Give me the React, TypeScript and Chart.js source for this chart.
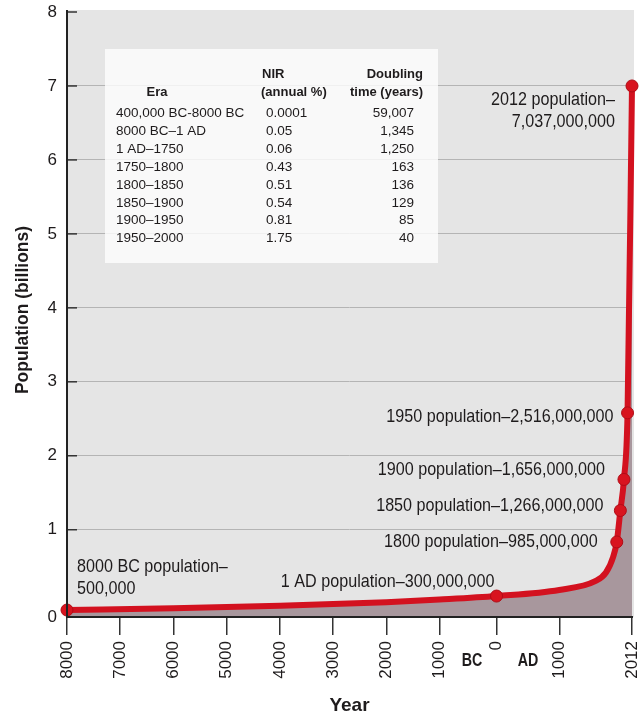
import React, { useEffect, useRef } from 'react';
import { Chart, registerables, LinearScale } from 'chart.js';

// ---------- data ----------
const years = [-8000, -6000, -4000, -2000, -1000, 1, 1000, 1500, 1650, 1750, 1800, 1850, 1900, 1950, 2012];
const populationBillions = [0.08, 0.1, 0.13, 0.17, 0.2, 0.24, 0.31, 0.41, 0.51, 0.69, 0.86, 1.26, 1.68, 2.58, 7.0];
const markedYears = [-8000, 1, 1800, 1850, 1900, 1950, 2012];

const xTickValues = [-8000, -7000, -6000, -5000, -4000, -3000, -2000, -1000, 0, 1000, 2012];
const yTickValues = [0, 1, 2, 3, 4, 5, 6, 7, 8];

const tableEras = ['400,000 BC-8000 BC', '8000 BC–1 AD', '1 AD–1750', '1750–1800', '1800–1850', '1850–1900', '1900–1950', '1950–2000'];
const tableNir = ['0.0001', '0.05', '0.06', '0.43', '0.51', '0.54', '0.81', '1.75'];
const tableDoubling = ['59,007', '1,345', '1,250', '163', '136', '129', '85', '40'];

const annotationYears = [2012, 1950, 1900, 1850, 1800, 1, -8000];
const annotationTexts = [
  ['2012 population–', '7,037,000,000'],
  ['1950 population–2,516,000,000'],
  ['1900 population–1,656,000,000'],
  ['1850 population–1,266,000,000'],
  ['1800 population–985,000,000'],
  ['1 AD population–300,000,000'],
  ['8000 BC population–', '500,000'],
];

// ---------- axis segment stretch (non-uniform axes of the original figure) ----------
const PIECEWISE: Record<string, { breaks: number[]; stretch: number[] }> = {
  x: { breaks: [-8000, -1000, 0, 1000, 2012], stretch: [1, 1.07, 1.18, 1.35] },
  y: { breaks: [0, 1, 8], stretch: [1.18, 1] },
};

class PiecewiseScale extends (LinearScale as any) {
  static id = 'piecewise';
  static defaults = (LinearScale as any).defaults;
  seg() {
    const cfg = PIECEWISE[(this as any).id];
    const lens = cfg.stretch.map((k, i) => (cfg.breaks[i + 1] - cfg.breaks[i]) * k);
    const total = lens.reduce((a, c) => a + c, 0);
    return { cfg, lens, total };
  }
  toDecimal(v: number) {
    const { cfg, lens, total } = this.seg();
    let acc = 0;
    for (let i = 0; i < lens.length; i++) {
      if (v <= cfg.breaks[i + 1] || i === lens.length - 1) {
        return (acc + (v - cfg.breaks[i]) * cfg.stretch[i]) / total;
      }
      acc += lens[i];
    }
    return 0;
  }
  getPixelForValue(v: number) {
    if (v === null || v === undefined || isNaN(v)) return NaN;
    return (this as any).getPixelForDecimal(this.toDecimal(v));
  }
  getValueForPixel(p: number) {
    const { cfg, lens, total } = this.seg();
    const d = (this as any).getDecimalForPixel(p) * total;
    let acc = 0;
    for (let i = 0; i < lens.length; i++) {
      if (d <= acc + lens[i] || i === lens.length - 1) {
        return cfg.breaks[i] + (d - acc) / cfg.stretch[i];
      }
      acc += lens[i];
    }
    return 0;
  }
}

Chart.register(...registerables, PiecewiseScale as any);

const FONT = "'Liberation Sans', Arial, Helvetica, sans-serif";
const TEXT = '#1e1b1c';

const annotationLayout = [
  { dx: -17, dy: [14, 36], align: 'right' },
  { dx: -14, dy: [4], align: 'right' },
  { dx: -19, dy: [-10], align: 'right' },
  { dx: -17, dy: [-5], align: 'right' },
  { dx: -19, dy: [0], align: 'right' },
  { dx: -2, dy: [-14], align: 'right' },
  { dx: 10, dy: [-43, -21], align: 'left' },
];

function condensedText(ctx: any, text: string, x: number, y: number, align: string, sx: number) {
  ctx.save();
  ctx.translate(x, y);
  ctx.scale(sx, 1);
  ctx.textAlign = align;
  ctx.fillText(text, 0, 0);
  ctx.restore();
}

const figurePlugin = {
  id: 'figure',
  beforeDraw(chart: any) {
    const { ctx, chartArea: a } = chart;
    ctx.save();
    ctx.fillStyle = '#ffffff';
    ctx.fillRect(0, 0, chart.width, chart.height);
    ctx.fillStyle = '#e5e5e5';
    ctx.fillRect(a.left, a.top - 2, a.right - a.left + 2, a.bottom - a.top + 2);
    ctx.restore();
  },
  beforeDatasetsDraw(chart: any) {
    const { ctx, chartArea: a } = chart;
    const ys = chart.scales.y;
    ctx.save();
    // inner y tick marks
    ctx.strokeStyle = '#333';
    ctx.lineWidth = 1.5;
    yTickValues.forEach((v) => {
      if (v === 0) return;
      const py = ys.getPixelForValue(v);
      ctx.beginPath();
      ctx.moveTo(a.left, py);
      ctx.lineTo(a.left + 10, py);
      ctx.stroke();
    });
    // table box
    ctx.fillStyle = 'rgba(252,252,252,0.82)';
    ctx.fillRect(105, 49, 333, 214);
    ctx.fillStyle = TEXT;
    ctx.textBaseline = 'middle';
    ctx.font = `bold 13px ${FONT}`;
    ctx.textAlign = 'center';
    ctx.fillText('Era', 157, 92);
    ctx.textAlign = 'left';
    ctx.fillText('NIR', 262, 74);
    ctx.fillText('(annual %)', 261, 92);
    ctx.textAlign = 'right';
    ctx.fillText('Doubling', 423, 74);
    ctx.fillText('time (years)', 423, 92);
    ctx.font = `13.5px ${FONT}`;
    tableEras.forEach((era, i) => {
      const y = 113.3 + i * 17.9;
      ctx.textAlign = 'left';
      ctx.fillText(era, 116, y);
      ctx.fillText(tableNir[i], 266, y);
      ctx.textAlign = 'right';
      ctx.fillText(tableDoubling[i], 414, y);
    });
    ctx.restore();
  },
  afterDatasetsDraw(chart: any) {
    const { ctx, chartArea: a } = chart;
    ctx.save();
    ctx.strokeStyle = '#222';
    ctx.lineWidth = 2;
    ctx.beginPath();
    ctx.moveTo(a.left, a.top - 2);
    ctx.lineTo(a.left, a.bottom);
    ctx.lineTo(a.right + 1, a.bottom);
    ctx.stroke();
    ctx.restore();
  },
  afterDraw(chart: any) {
    const { ctx, chartArea: a } = chart;
    const xs = chart.scales.x;
    const ys = chart.scales.y;
    ctx.save();
    ctx.fillStyle = TEXT;
    ctx.textBaseline = 'middle';
    ctx.font = `19px ${FONT}`;
    annotationYears.forEach((yr, i) => {
      const idx = years.indexOf(yr);
      const px = xs.getPixelForValue(yr);
      const py = ys.getPixelForValue(populationBillions[idx]);
      const lay = annotationLayout[i];
      annotationTexts[i].forEach((line, j) => condensedText(ctx, line, px + lay.dx, py + lay.dy[j], lay.align, 0.85));
    });
    // BC / AD
    ctx.font = `bold 19px ${FONT}`;
    condensedText(ctx, 'BC', 472, 661, 'center', 0.75);
    condensedText(ctx, 'AD', 528, 661, 'center', 0.75);
    // axis titles
    ctx.textAlign = 'center';
    ctx.fillText('Year', (a.left + a.right) / 2, 706);
    ctx.translate(23, 310);
    ctx.rotate(-Math.PI / 2);
    ctx.font = `bold 17.5px ${FONT}`;
    ctx.fillText('Population (billions)', 0, 0);
    ctx.restore();
  },
};

export default function App() {
  const canvasRef = useRef<HTMLCanvasElement | null>(null);

  useEffect(() => {
    document.body.style.margin = '0';
    const canvas = canvasRef.current;
    if (!canvas) return;
    const data = years.map((yr, i) => ({ x: yr, y: populationBillions[i] }));
    const chart = new Chart(canvas, {
      type: 'line',
      data: {
        datasets: [
          {
            data,
            borderColor: '#d3111f',
            borderWidth: 6,
            fill: 'origin',
            backgroundColor: '#a8979d',
            cubicInterpolationMode: 'monotone',
            pointRadius: (c: any) => (markedYears.includes(years[c.dataIndex]) ? 6 : 0),
            pointHoverRadius: 0,
            pointBackgroundColor: '#d8141f',
            pointBorderColor: '#b00c16',
            pointBorderWidth: 1,
            clip: 10,
          } as any,
        ],
      },
      options: {
        animation: false,
        responsive: false,
        events: [],
        layout: { padding: { top: 12, right: 6, left: 0, bottom: 0 } },
        plugins: { legend: { display: false }, tooltip: { enabled: false } },
        scales: {
          x: {
            type: 'piecewise' as any,
            min: -8000,
            max: 2012,
            afterBuildTicks: (s: any) => {
              s.ticks = xTickValues.map((v) => ({ value: v }));
            },
            afterFit: (s: any) => {
              s.height = 100;
              s.paddingLeft = 0;
              s.paddingRight = 0;
            },
            grid: { drawOnChartArea: false, drawTicks: true, tickLength: 18, color: '#333', lineWidth: 1.5 },
            border: { display: false },
            ticks: {
              autoSkip: false,
              minRotation: 90,
              maxRotation: 90,
              padding: 6,
              color: TEXT,
              font: { family: FONT, size: 17 },
              callback: (v: any) => String(Math.abs(Number(v))),
            },
          } as any,
          y: {
            type: 'piecewise' as any,
            min: 0,
            max: 8,
            afterBuildTicks: (s: any) => {
              s.ticks = yTickValues.map((v) => ({ value: v }));
            },
            afterFit: (s: any) => {
              s.width = 67;
              s.paddingTop = 0;
              s.paddingBottom = 0;
            },
            grid: {
              drawTicks: false,
              lineWidth: 1,
              color: (c: any) => (c.tick && (c.tick.value === 0 || c.tick.value === 8) ? 'rgba(0,0,0,0)' : '#b4b4b4'),
            },
            border: { display: false },
            ticks: {
              padding: 10,
              color: TEXT,
              font: { family: FONT, size: 17 },
              callback: (v: any) => String(v),
            },
          } as any,
        },
      },
      plugins: [figurePlugin],
    });
    return () => chart.destroy();
  }, []);

  return (
    <div style={{ width: 639, height: 717 }}>
      <canvas ref={canvasRef} width={639} height={717} style={{ display: 'block' }} />
    </div>
  );
}
